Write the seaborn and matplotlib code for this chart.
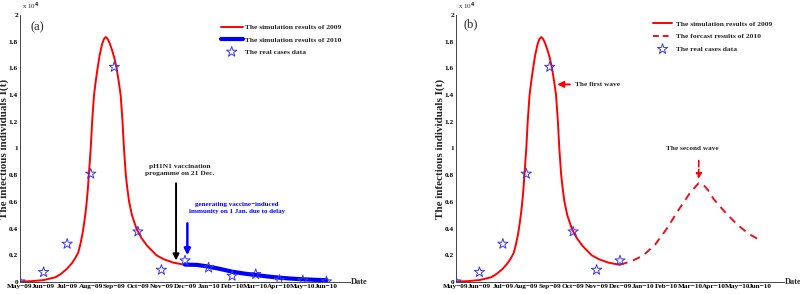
import numpy as np
import pandas as pd
import matplotlib
matplotlib.use("Agg")
import matplotlib.pyplot as plt
import seaborn as sns

# Dados (unidade: x 10^4), eixo x em meses desde May-09
meses = ["May−09", "Jun−09", "Jul−09", "Aug−09", "Sep−09", "Oct−09", "Nov−09",
         "Dec−09", "Jan−10", "Feb−10", "Mar−10", "Apr−10", "May−10", "Jun−10"]

# casos reais
casos_t = list(range(14))
casos_v = [0.003, 0.073, 0.285, 0.81, 1.61, 0.377, 0.09, 0.16, 0.107, 0.045,
           0.058, 0.015, 0.01, 0.003]

# simulação 2009
sim09_t = [0, 0.5, 1.0, 1.5, 1.75, 2.0, 2.2, 2.35, 2.47, 2.57, 2.65, 2.72,
           2.78, 2.83, 2.88, 2.92, 2.96, 3.0, 3.06, 3.14, 3.21, 3.29, 3.38,
           3.48, 3.56, 3.64, 3.72, 3.8, 3.9, 4.0, 4.1, 4.19, 4.27, 4.35, 4.41,
           4.49, 4.56, 4.63, 4.75, 4.94, 5.15, 5.4, 5.79, 6.1, 6.5, 7.0]
sim09_v = [0.003, 0.006, 0.014, 0.035, 0.062, 0.10, 0.14, 0.18, 0.22, 0.29,
           0.36, 0.44, 0.52, 0.6, 0.7, 0.8, 0.9, 1.0, 1.2, 1.4, 1.5, 1.6, 1.7,
           1.78, 1.82, 1.835, 1.82, 1.79, 1.74, 1.68, 1.6, 1.5, 1.4, 1.2, 1.0,
           0.8, 0.69, 0.6, 0.5, 0.4, 0.33, 0.27, 0.2, 0.17, 0.145, 0.128]

# simulação 2010 (a)
sim10_t = [7.0, 7.5, 8.0, 8.5, 9.0, 9.5, 10.0, 10.5, 11.0, 11.5, 12.0, 12.5, 13.0]
sim10_v = [0.13, 0.128, 0.115, 0.097, 0.077, 0.063, 0.052, 0.041, 0.032,
           0.025, 0.02, 0.016, 0.013]

# previsão 2010 (b)
prev10_t = [7, 7.5, 8, 8.5, 9, 9.5, 10, 10.2, 10.36, 10.55, 10.75, 11, 11.5,
            12, 12.5, 13]
prev10_v = [0.13, 0.155, 0.2, 0.28, 0.4, 0.54, 0.67, 0.71, 0.74, 0.73, 0.69,
            0.62, 0.52, 0.43, 0.36, 0.31]

sns.set_style("white")
plt.rcParams["font.family"] = ["Liberation Serif", "DejaVu Serif"]
plt.rcParams["font.weight"] = "bold"

fig = plt.figure(figsize=(8, 2.94), dpi=100)
ax1 = fig.add_axes([0.025, 0.041, 0.4125, 0.908])
ax2 = fig.add_axes([0.57, 0.041, 0.41, 0.908])

VERM = "#ff0000"
AZUL = "#0000ff"
ESTRELA = "#3a3ae0"


def estilo(ax, letra):
    ax.set_xlim(0, 14)
    ax.set_ylim(0, 2)
    ax.set_xticks(range(14))
    ax.set_xticklabels(meses)
    yt = np.round(np.arange(0, 2.01, 0.2), 1)
    ax.set_yticks(yt)
    ax.set_yticklabels(["0" if v == 0 else ("%g" % v) for v in yt])
    ax.tick_params(direction="in", length=3, width=0.6, labelsize=5.2,
                   pad=1.5, colors="black")
    for lab in ax.get_xticklabels() + ax.get_yticklabels():
        lab.set_fontweight("bold")
    for s in ["top", "right"]:
        ax.spines[s].set_visible(False)
    for s in ["left", "bottom"]:
        ax.spines[s].set_color("#444444")
        ax.spines[s].set_linewidth(0.7)
    ax.set_xlabel("")
    ax.set_ylabel("The infectious individuals I(t)", fontsize=8,
                  fontweight="bold")
    ax.text(14.03, 0, "Date", fontsize=6, fontweight="bold", ha="left",
            va="center", clip_on=False)
    ax.text(0.005, 1.012, "x 10$^4$", transform=ax.transAxes, fontsize=5,
            fontweight="normal", ha="left", va="bottom")
    ax.text(letra[1], letra[2], letra[0], fontsize=9, fontweight="normal",
            ha="left", va="center")


# (a)
sns.lineplot(x=sim09_t, y=sim09_v, ax=ax1, color=VERM, lw=1.4, sort=False,
             estimator=None, label="The simulation results of 2009")
sns.lineplot(x=sim10_t, y=sim10_v, ax=ax1, color=AZUL, lw=3, sort=False,
             estimator=None, label="The simulation results of 2010")
sns.scatterplot(x=casos_t, y=casos_v, ax=ax1, marker="*", s=60,
                facecolors="none", edgecolor=ESTRELA, linewidth=0.7,
                label="The real cases data", zorder=5)
estilo(ax1, ("(a)", 0.45, 1.91))
ax1.yaxis.set_label_coords(-0.033, 0.5)

ax1.annotate("", xy=(6.62, 0.14), xytext=(6.62, 0.76),
             arrowprops=dict(arrowstyle="-|>", color="black", lw=1.4,
                             mutation_scale=9))
ax1.text(6.78, 0.84, "pH1N1 vaccination\nprogamme on 21 Dec.", fontsize=5.4,
         fontweight="bold", ha="center", va="center", linespacing=1.35)
ax1.annotate("", xy=(7.1, 0.18), xytext=(7.1, 0.46),
             arrowprops=dict(arrowstyle="-|>", color=AZUL, lw=1.8,
                             mutation_scale=9))
ax1.text(9.2, 0.555, "generating vaccine−induced\nimmunity on 1 Jan. due to delay",
         fontsize=5, fontweight="bold", color=AZUL, ha="center", va="center",
         linespacing=1.45)
ax1.legend(loc="upper left", bbox_to_anchor=(0.276, 0.918),
           bbox_transform=fig.transFigure, frameon=False, fontsize=5.4,
           handlelength=2.9, handletextpad=0.3, labelspacing=0.8,
           borderpad=0, borderaxespad=0)

# (b)
sns.lineplot(x=sim09_t, y=sim09_v, ax=ax2, color=VERM, lw=1.4, sort=False,
             estimator=None, label="The simulation results of 2009")
sns.lineplot(x=prev10_t, y=prev10_v, ax=ax2, color="#e8101c", lw=1.4,
             sort=False, estimator=None, label="The forcast results of 2010")
ax2.lines[-1].set_dashes([4, 3])
sns.scatterplot(x=casos_t[:8], y=casos_v[:8], ax=ax2, marker="*", s=60,
                facecolors="none", edgecolor=ESTRELA, linewidth=0.7,
                label="The real cases data", zorder=5)
estilo(ax2, ("(b)", 0.3, 1.93))
ax2.yaxis.set_label_coords(-0.035, 0.5)

ax2.annotate("", xy=(4.2, 1.48), xytext=(4.98, 1.48),
             arrowprops=dict(arrowstyle="-|>", color=VERM, lw=1.4,
                             mutation_scale=9))
ax2.text(5.1, 1.48, "The first wave", fontsize=5.3, fontweight="bold",
         ha="left", va="center")
ax2.annotate("", xy=(10.36, 0.75), xytext=(10.36, 0.93),
             arrowprops=dict(arrowstyle="-|>", color=VERM, lw=1.2,
                             linestyle="--", mutation_scale=8))
ax2.text(10.1, 0.98, "The second wave", fontsize=5.2, fontweight="bold",
         ha="center", va="bottom")
leg = ax2.legend(loc="upper left", bbox_to_anchor=(0.816, 0.93),
                 bbox_transform=fig.transFigure, frameon=False, fontsize=5.4,
                 handlelength=2.6, handletextpad=0.5, labelspacing=0.85,
                 borderpad=0, borderaxespad=0)
leg.get_lines()[1].set_dashes([3, 2])

fig.savefig("out.png", dpi=100)
plt.close(fig)
